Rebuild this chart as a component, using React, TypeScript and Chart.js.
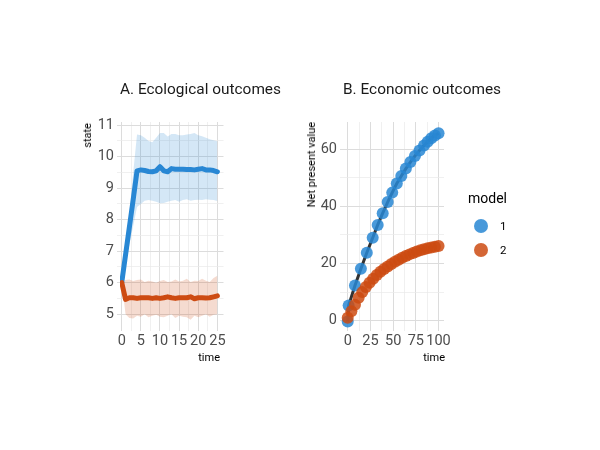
import React, { useEffect, useRef } from "react";
import { Chart, registerables } from "chart.js";

Chart.register(...registerables);

const FONT = "Roboto, 'Noto Sans', sans-serif";

// ---------- Panel A: ecological outcomes ----------
const timeA = [0, 1, 2, 3, 4, 5, 6, 7, 8, 9, 10, 11, 12, 13, 14, 15, 16, 17, 18, 19, 20, 21, 22, 23, 24, 25];
const stateModel1 = [6.0, 6.88, 7.76, 8.64, 9.55, 9.58, 9.56, 9.53, 9.52, 9.55, 9.68, 9.55, 9.52, 9.62, 9.6, 9.6, 9.6, 9.59, 9.59, 9.58, 9.6, 9.62, 9.58, 9.58, 9.56, 9.52];
const upperModel1 = [6.0, 7.1, 8.2, 9.5, 10.7, 10.68, 10.6, 10.5, 10.46, 10.6, 10.75, 10.75, 10.64, 10.72, 10.72, 10.68, 10.68, 10.7, 10.72, 10.75, 10.68, 10.65, 10.6, 10.55, 10.52, 10.49];
const lowerModel1 = [6.0, 6.6, 7.2, 7.8, 8.4, 8.5, 8.6, 8.62, 8.6, 8.57, 8.52, 8.53, 8.57, 8.6, 8.62, 8.57, 8.62, 8.65, 8.6, 8.62, 8.63, 8.62, 8.65, 8.63, 8.62, 8.59];
const stateModel2 = [6.0, 5.47, 5.52, 5.52, 5.5, 5.52, 5.52, 5.52, 5.5, 5.52, 5.5, 5.52, 5.55, 5.52, 5.5, 5.52, 5.52, 5.52, 5.55, 5.49, 5.52, 5.52, 5.51, 5.52, 5.55, 5.58];
const upperModel2 = [6.0, 6.08, 6.1, 6.05, 6.08, 6.1, 6.02, 6.06, 6.04, 6.0, 6.05, 6.08, 6.02, 6.04, 6.1, 6.04, 6.06, 6.12, 6.02, 6.06, 6.05, 6.12, 6.06, 6.02, 6.15, 6.22];
const lowerModel2 = [6.0, 5.0, 4.88, 4.86, 4.95, 4.92, 5.0, 4.9, 4.95, 4.98, 4.92, 4.9, 4.95, 5.0, 4.88, 4.95, 4.92, 4.9, 4.82, 4.95, 4.9, 4.95, 5.0, 4.92, 4.98, 5.0];

const aXMajor = [0, 5, 10, 15, 20, 25];
const aXMinor = [2.5, 7.5, 12.5, 17.5, 22.5];
const aYMajor = [5, 6, 7, 8, 9, 10, 11];
const aYMinor = [5.5, 6.5, 7.5, 8.5, 9.5, 10.5];

// ---------- Panel B: economic outcomes ----------
const timeB1 = [0, 1, 8, 14.5, 21, 27.5, 33, 38.5, 44, 49, 54, 59, 64, 69, 74, 79, 84, 88, 92, 96, 100];
const npvModel1 = [-0.3, 5.3, 12.3, 18.2, 23.8, 29.0, 33.5, 37.6, 41.5, 44.8, 48.0, 50.6, 53.2, 55.5, 57.6, 59.5, 61.3, 62.6, 63.8, 64.8, 65.6];
const timeB2 = [0, 4, 8, 12, 16, 20, 24, 28, 32, 36, 40, 44, 48, 52, 56, 60, 64, 68, 72, 76, 80, 84, 88, 92, 96, 100];
const npvModel2 = [1.0, 3.3, 5.6, 8.0, 10.0, 11.8, 13.3, 14.7, 16.0, 17.1, 18.1, 19.0, 19.8, 20.6, 21.3, 22.0, 22.6, 23.2, 23.7, 24.2, 24.6, 25.0, 25.3, 25.6, 25.9, 26.1];

const bXMajor = [0, 25, 50, 75, 100];
const bXMinor = [12.5, 37.5, 62.5, 87.5];
const bYMajor = [0, 20, 40, 60];
const bYMinor = [10, 30, 50];

const legendLabels = ["1", "2"];

// ---------- styles ----------
const BLUE_LINE = "rgb(40,135,212)";
const RED_LINE = "rgb(205,75,18)";
const BLUE_RIBBON = "rgba(40,135,212,0.2)";
const RED_RIBBON = "rgba(205,75,18,0.2)";
const BLUE_POINT = "rgba(40,135,212,0.85)";
const RED_POINT = "rgba(205,75,18,0.85)";

const W = 600;
const H = 450;
const AX_W = 40;
const AX_H = 30;

type Box = { left: number; right: number; top: number; bottom: number };

function pts(xs: number[], ys: number[]) {
  return xs.map((x, i) => ({ x, y: ys[i] }));
}

function axis(min: number, max: number, majors: number[], minors: number[], isX: boolean) {
  const all = [...majors, ...minors].sort((a, b) => a - b);
  const isMajor = (v: any) => majors.includes(v);
  return {
    type: "linear",
    min,
    max,
    afterBuildTicks: (s: any) => {
      s.ticks = all.map((v) => ({ value: v }));
    },
    afterFit: (s: any) => {
      if (isX) s.height = AX_H;
      else s.width = AX_W;
    },
    border: { display: false },
    grid: {
      color: (c: any) => (isMajor(c.tick && c.tick.value) ? "#dcdcdc" : "#e9e9e9"),
      lineWidth: (c: any) => (isMajor(c.tick && c.tick.value) ? 1 : 0.7),
      tickLength: 3,
      drawTicks: true,
    },
    ticks: {
      autoSkip: false,
      maxRotation: 0,
      minRotation: 0,
      padding: isX ? 2 : 3,
      color: "#4d4d4d",
      font: { family: FONT, size: 14.5 },
      callback: (v: any) => (isMajor(v) ? String(v) : ""),
    },
  };
}

function padding(b: Box) {
  return { left: b.left - AX_W, right: W - b.right, top: b.top, bottom: H - b.bottom - AX_H };
}

const boxA: Box = { left: 120, right: 223.5, top: 122, bottom: 328 };
const boxB: Box = { left: 343, right: 444, top: 122, bottom: 328 };

function ChartCanvas({ config }: { config: () => any }) {
  const ref = useRef<HTMLCanvasElement | null>(null);
  useEffect(() => {
    if (!ref.current) return;
    const chart = new Chart(ref.current, config());
    return () => chart.destroy();
  }, []);
  return (
    <canvas
      ref={ref}
      width={W}
      height={H}
      style={{ position: "absolute", left: 0, top: 0, width: W, height: H }}
    />
  );
}

const configA = () => ({
  type: "line",
  data: {
    datasets: [
      { label: "2", data: pts(timeA, stateModel2), borderColor: RED_LINE, borderWidth: 5, pointRadius: 0, fill: false, tension: 0, borderJoinStyle: "round", borderCapStyle: "round" },
      { label: "1", data: pts(timeA, stateModel1), borderColor: BLUE_LINE, borderWidth: 5, pointRadius: 0, fill: false, tension: 0, borderJoinStyle: "round", borderCapStyle: "round" },
      { label: "u1", data: pts(timeA, upperModel1), borderColor: "transparent", borderWidth: 0, pointRadius: 0, fill: "+1", backgroundColor: BLUE_RIBBON },
      { label: "l1", data: pts(timeA, lowerModel1), borderColor: "transparent", borderWidth: 0, pointRadius: 0, fill: false },
      { label: "u2", data: pts(timeA, upperModel2), borderColor: "transparent", borderWidth: 0, pointRadius: 0, fill: "+1", backgroundColor: RED_RIBBON },
      { label: "l2", data: pts(timeA, lowerModel2), borderColor: "transparent", borderWidth: 0, pointRadius: 0, fill: false },
    ],
  },
  options: {
    animation: false,
    responsive: false,
    layout: { padding: padding(boxA) },
    plugins: { legend: { display: false }, tooltip: { enabled: false }, title: { display: false } },
    scales: {
      x: axis(-0.45, 26.6, aXMajor, aXMinor, true),
      y: axis(4.56, 11.1, aYMajor, aYMinor, false),
    },
  },
});

const configB = () => ({
  type: "scatter",
  data: {
    datasets: [
      { label: "2", data: pts(timeB2, npvModel2), backgroundColor: RED_POINT, borderColor: RED_POINT, borderWidth: 0, pointRadius: 6, clip: false },
      { label: "1", data: pts(timeB1, npvModel1), backgroundColor: BLUE_POINT, borderColor: BLUE_POINT, borderWidth: 0, pointRadius: 6, clip: false },
      { label: "path", data: pts(timeB1, npvModel1), showLine: true, borderColor: "#333333", borderWidth: 3, pointRadius: 0, fill: false },
    ],
  },
  options: {
    animation: false,
    responsive: false,
    layout: { padding: padding(boxB) },
    plugins: { legend: { display: false }, tooltip: { enabled: false }, title: { display: false } },
    scales: {
      x: axis(-5.2, 106, bXMajor, bXMinor, true),
      y: axis(-2.55, 69.5, bYMajor, bYMinor, false),
    },
  },
});

function VText({ x, y, text, size }: { x: number; y: number; text: string; size: number }) {
  return (
    <div style={{ position: "absolute", left: x, top: y, width: 0, height: 0 }}>
      <span
        style={{
          position: "absolute",
          left: 0,
          top: 0,
          whiteSpace: "nowrap",
          lineHeight: "12px",
          height: 12,
          fontSize: size,
          color: "#000",
          transformOrigin: "0 0",
          transform: "rotate(-90deg) translate(-100%, -6px)",
        }}
      >
        {text}
      </span>
    </div>
  );
}

export default function App() {
  const legendColors = [BLUE_POINT, RED_POINT];
  return (
    <div
      style={{
        position: "fixed",
        left: 0,
        top: 0,
        width: W,
        height: H,
        background: "#fff",
        fontFamily: FONT,
        overflow: "hidden",
      }}
    >
      <ChartCanvas config={configA} />
      <ChartCanvas config={configB} />

      <div style={{ position: "absolute", left: 120, top: 81, fontSize: 15.4, lineHeight: "16px", color: "#1a1a1a", whiteSpace: "nowrap" }}>
        A. Ecological outcomes
      </div>
      <div style={{ position: "absolute", left: 343, top: 81, fontSize: 15.4, lineHeight: "16px", color: "#1a1a1a", whiteSpace: "nowrap" }}>
        B. Economic outcomes
      </div>

      <VText x={88} y={123} text="state" size={11} />
      <VText x={312} y={122} text="Net present value" size={11} />

      <div style={{ position: "absolute", right: W - 220, top: 352, fontSize: 11, lineHeight: "12px", color: "#000" }}>time</div>
      <div style={{ position: "absolute", right: W - 445, top: 352, fontSize: 11, lineHeight: "12px", color: "#000" }}>time</div>

      <div style={{ position: "absolute", left: 468, top: 190, fontSize: 14, lineHeight: "16px", color: "#000" }}>model</div>
      {legendLabels.map((lab, i) => (
        <React.Fragment key={lab}>
          <div
            style={{
              position: "absolute",
              left: 481 - 7,
              top: 226 + i * 24 - 7,
              width: 14,
              height: 14,
              borderRadius: "50%",
              background: legendColors[i],
            }}
          />
          <div style={{ position: "absolute", left: 500, top: 226 + i * 24 - 6, fontSize: 11.5, lineHeight: "12px", color: "#000" }}>
            {lab}
          </div>
        </React.Fragment>
      ))}
    </div>
  );
}
